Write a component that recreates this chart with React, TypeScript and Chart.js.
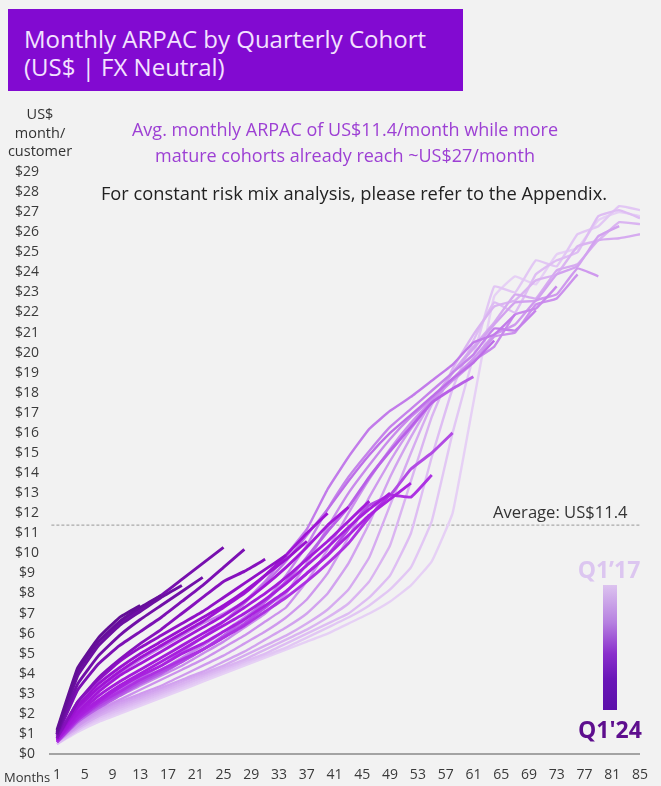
import React, { useEffect, useRef } from "react";
import { Chart, registerables } from "chart.js";

Chart.register(...registerables);

// ---- Data ----
const SAMPLE_MONTHS = [1, 4, 7, 10, 13, 16, 19, 22, 25, 28, 31, 34, 37, 40, 43, 46, 49, 52, 55, 58, 61, 64, 67, 70, 73, 76, 79, 82, 85];
const X_TICKS = [1, 5, 9, 13, 17, 21, 25, 29, 33, 37, 41, 45, 49, 53, 57, 61, 65, 69, 73, 77, 81, 85];
const COHORTS = ["Q1'17", "Q2'17", "Q3'17", "Q4'17", "Q1'18", "Q2'18", "Q3'18", "Q4'18", "Q1'19", "Q2'19", "Q3'19", "Q4'19", "Q1'20", "Q2'20", "Q3'20", "Q4'20", "Q1'21", "Q2'21", "Q3'21", "Q4'21", "Q1'22", "Q2'22", "Q3'22", "Q4'22", "Q1'23", "Q2'23", "Q3'23", "Q4'23", "Q1'24"];
const AVERAGE_ARPAC = 11.4;

const Q1_17 = [0.5, 1.1, 1.6, 2.0, 2.4, 2.8, 3.2, 3.6, 4.0, 4.4, 4.8, 5.2, 5.6, 6.0, 6.5, 7.0, 7.6, 8.4, 9.6, 12.0, 17.5, 22.8, 23.8, 23.4, 24.9, 25.2, 26.6, 27.0, 26.8];
const Q2_17 = [0.5, 1.2, 1.7, 2.1, 2.5, 2.9, 3.3, 3.7, 4.1, 4.5, 4.9, 5.3, 5.8, 6.3, 6.8, 7.4, 8.2, 9.3, 11.6, 16.0, 19.8, 23.3, 23.0, 24.6, 24.3, 25.9, 26.3, 27.3, 27.1];
const Q3_17 = [0.5, 1.2, 1.8, 2.2, 2.6, 3.0, 3.4, 3.8, 4.2, 4.6, 5.0, 5.5, 6.0, 6.5, 7.0, 7.8, 8.9, 11.0, 14.8, 18.2, 20.6, 22.5, 22.0, 23.9, 24.6, 25.0, 26.8, 27.1, 26.7];
const Q4_17 = [0.6, 1.3, 1.9, 2.3, 2.7, 3.1, 3.5, 3.9, 4.3, 4.7, 5.2, 5.7, 6.2, 6.8, 7.5, 8.6, 10.4, 13.6, 16.8, 19.2, 20.9, 22.3, 22.6, 23.6, 23.9, 25.3, 25.6, 26.5, 26.4];
const Q1_18 = [0.6, 1.3, 1.9, 2.4, 2.8, 3.2, 3.6, 4.0, 4.4, 4.9, 5.4, 5.9, 6.5, 7.2, 8.2, 9.8, 12.4, 15.0, 17.4, 19.0, 20.3, 21.5, 22.9, 22.7, 24.1, 24.4, 25.6, 25.7, 25.9];
const Q2_18 = [0.6, 1.4, 2.0, 2.5, 2.9, 3.3, 3.7, 4.1, 4.6, 5.1, 5.7, 6.3, 7.0, 8.0, 9.5, 11.5, 13.8, 15.8, 17.6, 19.0, 20.2, 21.4, 22.5, 22.6, 23.9, 24.3, 25.8, 26.3];
const Q3_18 = [0.6, 1.4, 2.1, 2.6, 3.0, 3.4, 3.9, 4.4, 4.9, 5.5, 6.1, 6.8, 7.7, 9.0, 10.8, 12.8, 14.6, 16.2, 17.5, 18.7, 19.7, 20.9, 21.4, 22.6, 22.9, 24.2, 23.8];
const Q4_18 = [0.6, 1.5, 2.2, 2.7, 3.2, 3.7, 4.2, 4.7, 5.3, 5.9, 6.6, 7.3, 8.6, 10.2, 12.0, 13.7, 15.2, 16.5, 17.6, 18.6, 19.5, 20.8, 21.0, 22.4, 22.7, 23.9];
const Q1_19 = [0.7, 1.6, 2.3, 2.9, 3.4, 3.9, 4.4, 5.0, 5.6, 6.3, 7.0, 8.0, 9.5, 11.3, 13.0, 14.4, 15.7, 16.8, 17.7, 18.7, 19.6, 20.3, 21.9, 22.2, 23.3];
const Q2_19 = [0.7, 1.7, 2.5, 3.1, 3.6, 4.2, 4.8, 5.4, 6.1, 6.8, 7.6, 8.9, 10.4, 12.2, 13.8, 15.1, 16.3, 17.2, 18.1, 19.0, 19.9, 21.2, 21.1, 22.1];
const Q3_19 = [0.7, 2.2, 3.2, 4.0, 4.7, 5.3, 5.9, 6.5, 7.0, 7.6, 8.6, 9.9, 11.2, 13.2, 14.8, 16.2, 17.1, 17.8, 18.6, 19.4, 20.5, 20.9, 21.9];
const Q4_19 = [0.6, 1.7, 2.5, 3.2, 3.8, 4.4, 5.1, 5.8, 6.6, 7.5, 8.5, 9.6, 10.9, 12.2, 13.6, 14.9, 16.0, 16.9, 17.8, 18.7, 19.5, 20.6];
const Q1_20 = [0.6, 1.6, 2.3, 2.9, 3.5, 4.0, 4.6, 5.2, 5.9, 6.7, 7.6, 8.6, 9.8, 11.1, 12.3, 13.8, 15.1, 16.3, 17.5, 18.2, 18.8];
const Q2_20 = [0.6, 1.7, 2.4, 3.0, 3.6, 4.1, 4.6, 5.2, 5.8, 6.5, 7.3, 8.1, 9.0, 9.9, 11.2, 12.4, 12.9, 14.2, 15.0, 16.0];
const Q3_20 = [0.6, 1.7, 2.5, 3.1, 3.7, 4.2, 4.7, 5.2, 5.8, 6.4, 7.1, 7.8, 8.6, 9.5, 10.5, 11.8, 12.9, 12.8, 13.9];
const Q4_20 = [0.7, 1.8, 2.6, 3.3, 3.9, 4.4, 5.0, 5.5, 6.1, 6.7, 7.4, 8.1, 9.0, 9.9, 10.9, 11.9, 12.7, 13.5];
const Q1_21 = [0.7, 1.9, 2.7, 3.4, 4.0, 4.6, 5.2, 5.8, 6.4, 7.0, 7.7, 8.5, 9.4, 10.3, 11.3, 12.2, 13.0];
const Q2_21 = [0.7, 2.0, 2.9, 3.6, 4.2, 4.8, 5.4, 6.0, 6.6, 7.3, 8.0, 8.8, 9.7, 10.6, 11.6, 12.6];
const Q3_21 = [0.7, 2.1, 3.1, 3.9, 4.5, 5.1, 5.7, 6.3, 6.9, 7.6, 8.4, 9.3, 10.3, 11.4, 12.3];
const Q4_21 = [0.8, 2.3, 3.3, 4.1, 4.8, 5.4, 6.0, 6.6, 7.3, 8.0, 8.9, 9.9, 11.0, 12.0];
const Q1_22 = [0.8, 2.4, 3.5, 4.3, 5.0, 5.6, 6.2, 6.8, 7.4, 8.1, 8.9, 9.7, 10.6];
const Q2_22 = [0.8, 2.6, 3.7, 4.6, 5.3, 5.9, 6.5, 7.1, 7.8, 8.5, 9.2, 9.9];
const Q3_22 = [0.8, 2.6, 3.8, 4.7, 5.5, 6.2, 7.0, 7.8, 8.6, 9.1, 9.7];
const Q4_22 = [0.9, 3.2, 4.5, 5.4, 6.1, 6.8, 7.6, 8.4, 9.3, 10.2];
const Q1_23 = [1.0, 4.2, 5.6, 6.5, 7.2, 7.9, 8.7, 9.5, 10.3];
const Q2_23 = [1.0, 3.5, 4.9, 5.9, 6.7, 7.4, 8.1, 8.8];
const Q3_23 = [1.0, 3.9, 5.4, 6.4, 7.1, 7.8, 8.4];
const Q4_23 = [1.1, 4.1, 5.6, 6.6, 7.3, 7.9];
const Q1_24 = [1.2, 4.3, 5.8, 6.8, 7.4];

const SERIES = [Q1_17, Q2_17, Q3_17, Q4_17, Q1_18, Q2_18, Q3_18, Q4_18, Q1_19, Q2_19, Q3_19, Q4_19, Q1_20, Q2_20, Q3_20, Q4_20, Q1_21, Q2_21, Q3_21, Q4_21, Q1_22, Q2_22, Q3_22, Q4_22, Q1_23, Q2_23, Q3_23, Q4_23, Q1_24];

// ---- Styles ----
const FONT = "'Open Sans', 'DejaVu Sans', sans-serif";
const COLOR_STOPS: [number, number[]][] = [
  [0, [230, 208, 245]],
  [0.2, [208, 156, 238]],
  [0.36, [194, 122, 234]],
  [0.44, [182, 92, 230]],
  [0.52, [170, 36, 224]],
  [0.7, [158, 18, 212]],
  [0.82, [124, 16, 180]],
  [1, [98, 14, 150]],
];

function colorAt(t: number): string {
  for (let i = 1; i < COLOR_STOPS.length; i++) {
    const [t1, c1] = COLOR_STOPS[i];
    const [t0, c0] = COLOR_STOPS[i - 1];
    if (t <= t1) {
      const f = (t - t0) / (t1 - t0);
      const c = c0.map((v, j) => Math.round(v + (c1[j] - v) * f));
      return `rgb(${c[0]},${c[1]},${c[2]})`;
    }
  }
  const c = COLOR_STOPS[COLOR_STOPS.length - 1][1];
  return `rgb(${c[0]},${c[1]},${c[2]})`;
}

export default function App() {
  const canvasRef = useRef<HTMLCanvasElement | null>(null);

  useEffect(() => {
    if (!canvasRef.current) return;
    const n = SERIES.length;
    const cohortSets = SERIES.map((vals, k) => ({
      label: COHORTS[k],
      data: vals.map((v, i) => ({ x: SAMPLE_MONTHS[i], y: v })),
      borderColor: colorAt(k / (n - 1)),
      borderWidth: k >= 12 ? 2.9 : 2.4,
      pointRadius: 0,
      tension: 0.1,
      fill: false,
    })).reverse();

    const avgSet = {
      label: "Average",
      data: [
        { x: 0.2, y: AVERAGE_ARPAC },
        { x: 85, y: AVERAGE_ARPAC },
      ],
      borderColor: "#a9a9a9",
      borderWidth: 1.2,
      borderDash: [3, 2],
      pointRadius: 0,
      tension: 0,
      fill: false,
    };

    const chart = new Chart(canvasRef.current, {
      type: "line",
      data: { datasets: [...cohortSets, avgSet] as any },
      options: {
        responsive: false,
        maintainAspectRatio: false,
        devicePixelRatio: 1,
        animation: false,
        layout: { padding: { top: 172, right: 12, bottom: 0, left: 0 } },
        plugins: { legend: { display: false }, tooltip: { enabled: false } },
        scales: {
          x: {
            type: "linear",
            min: 0,
            max: 85,
            afterBuildTicks: (s: any) => {
              s.ticks = X_TICKS.map((v) => ({ value: v }));
            },
            afterFit: (s: any) => {
              s.height = 32;
            },
            grid: { display: false, drawTicks: false },
            border: { display: true, color: "#a3a3a3", width: 2 },
            ticks: {
              autoSkip: false,
              maxRotation: 0,
              padding: 13,
              color: "#3a3a3a",
              font: { family: FONT, size: 14 },
            },
          },
          y: {
            type: "linear",
            min: 0,
            max: 29,
            afterFit: (s: any) => {
              s.width = 50;
            },
            grid: { display: false, drawTicks: false },
            border: { display: false },
            ticks: {
              stepSize: 1,
              autoSkip: false,
              crossAlign: "center",
              padding: 11,
              color: "#3a3a3a",
              font: { family: FONT, size: 14 },
              callback: (v: any) => "$" + v,
            },
          },
        },
      } as any,
    });
    return () => chart.destroy();
  }, []);

  const abs = (o: React.CSSProperties): React.CSSProperties => ({ position: "absolute", whiteSpace: "nowrap", fontFamily: FONT, ...o });

  return (
    <div style={{ position: "absolute", left: 0, top: 0, width: 661, height: 786, background: "#f2f2f2", overflow: "hidden" }}>
      <canvas ref={canvasRef} width={661} height={786} style={{ position: "absolute", left: 0, top: 0, width: 661, height: 786 }} />
      <div style={{ position: "absolute", left: 8, top: 9, width: 455, height: 82, background: "#820ad1" }} />
      <div style={abs({ left: 24, top: 25, fontSize: 24, lineHeight: "28px", color: "#f3e2ff" })}>
        Monthly ARPAC by Quarterly Cohort
        <br />
        (US$ | FX Neutral)
      </div>
      <div style={abs({ left: 0, top: 105, width: 80, textAlign: "center", fontSize: 14.5, lineHeight: "18.5px", color: "#333" })}>
        US$
        <br />
        month/
        <br />
        customer
      </div>
      <div style={abs({ left: 45, top: 116, width: 600, textAlign: "center", fontSize: 18, lineHeight: "26px", color: "#9d40d4" })}>
        Avg. monthly ARPAC of US$11.4/month while more
        <br />
        mature cohorts already reach ~US$27/month
      </div>
      <div style={abs({ left: 54, top: 182, width: 600, textAlign: "center", fontSize: 18.3, lineHeight: "22px", color: "#222" })}>
        For constant risk mix analysis, please refer to the Appendix.
      </div>
      <div style={abs({ left: 493, top: 502, fontSize: 16.6, lineHeight: "20px", color: "#333" })}>Average: US$11.4</div>
      <div style={abs({ left: 4, top: 769, fontSize: 13, lineHeight: "16px", color: "#333" })}>Months</div>
      <div style={abs({ left: 559, top: 555, width: 100, textAlign: "center", fontSize: 23, fontWeight: 700, lineHeight: "28px", color: "#dcc6f0" })}>
        Q1’17
      </div>
      <div
        style={{
          position: "absolute",
          left: 603,
          top: 585,
          width: 14,
          height: 125,
          background: "linear-gradient(to bottom, #dcc3ef 0%, #b680e0 30%, #8a2fcc 55%, #6a16b8 75%, #5c10aa 100%)",
        }}
      />
      <div style={abs({ left: 560, top: 715, width: 100, textAlign: "center", fontSize: 23, fontWeight: 700, lineHeight: "28px", color: "#5e0f8e" })}>
        Q1'24
      </div>
    </div>
  );
}
